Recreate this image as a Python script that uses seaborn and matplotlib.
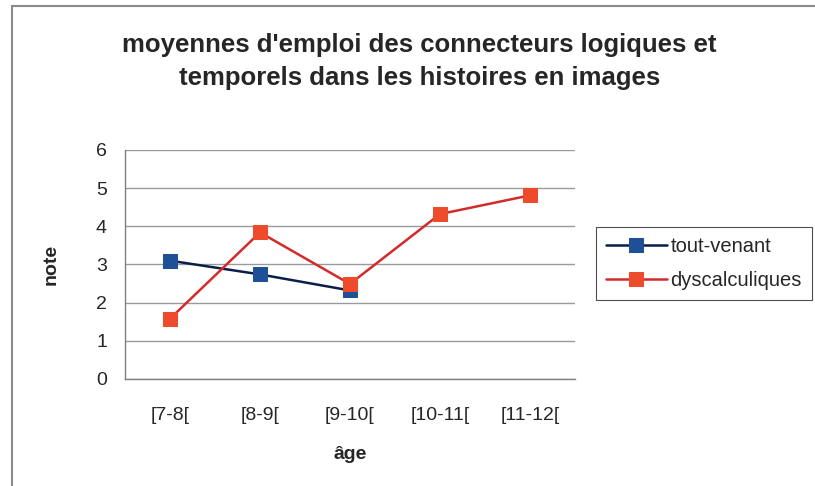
import pandas as pd
import seaborn as sns
import matplotlib.pyplot as plt
from matplotlib.lines import Line2D

ages = ['[7-8[', '[8-9[', '[9-10[', '[10-11[', '[11-12[']
tout_venant = [3.10, 2.74, 2.32]
dyscalculiques = [1.58, 3.84, 2.49, 4.32, 4.81]

df = pd.concat([
    pd.DataFrame({'age': ages[:len(tout_venant)], 'note': tout_venant, 'groupe': 'tout-venant'}),
    pd.DataFrame({'age': ages, 'note': dyscalculiques, 'groupe': 'dyscalculiques'}),
])
df['pos'] = df['age'].map({a: i for i, a in enumerate(ages)})

sns.set_style('white')
plt.rcParams['font.family'] = ['Liberation Sans', 'DejaVu Sans']

fig = plt.figure(figsize=(8.15, 4.86), dpi=100)
ax = fig.add_axes([0.1534, 0.2202, 0.552, 0.4712])

line_cols = {'tout-venant': '#0a1e4a', 'dyscalculiques': '#d42a2a'}
face_cols = {'tout-venant': '#1f4f96', 'dyscalculiques': '#ee4a2c'}
for g in ['tout-venant', 'dyscalculiques']:
    sub = df[df['groupe'] == g]
    sns.lineplot(data=sub, x='pos', y='note', ax=ax, color=line_cols[g], lw=1.8,
                 marker='s', markersize=9.5, markerfacecolor=face_cols[g],
                 markeredgecolor=face_cols[g], label=g, sort=False, zorder=3)

ax.set_xlim(-0.5, 4.5)
ax.set_ylim(0, 6)
ax.set_yticks(range(0, 7))
ax.set_xticks([i - 0.5 for i in range(6)])
ax.set_xticklabels([])
ax.set_xticks(range(5), minor=True)
ax.set_xticklabels(ages, minor=True)
ax.tick_params(axis='x', which='major', direction='out', length=6, color='#808080', width=1)
ax.tick_params(axis='x', which='minor', length=0, pad=20, labelsize=14)
ax.tick_params(axis='y', direction='out', length=6, color='#808080', width=1, labelsize=14, pad=7)
ax.yaxis.grid(True, color='#9a9a9a', lw=1)
ax.set_axisbelow(True)
for s in ['top', 'right']:
    ax.spines[s].set_visible(False)
for s in ['left', 'bottom']:
    ax.spines[s].set_color('#808080')
    ax.spines[s].set_linewidth(1)

ax.set_xlabel('âge', fontsize=14, fontweight='bold', labelpad=16)
ax.set_ylabel('note', fontsize=14, fontweight='bold', labelpad=26)

fig.suptitle("moyennes d'emploi des connecteurs logiques et\ntemporels dans les histoires en images",
             x=0.515, y=0.932, fontsize=18.5, fontweight='bold', linespacing=1.45)

leg = ax.legend(loc='upper left', bbox_to_anchor=(1.047, 0.665), frameon=True, fancybox=False,
                fontsize=14.5, handlelength=3.0, borderpad=0.5, labelspacing=0.75,
                handletextpad=0.2, borderaxespad=0)
leg.get_frame().set_edgecolor('#222222')
leg.get_frame().set_linewidth(0.8)

fig.lines.append(Line2D([0.015, 0.015], [0, 0.988], transform=fig.transFigure, color='#8a8a8a', lw=1.5))
fig.lines.append(Line2D([0.015, 1], [0.988, 0.988], transform=fig.transFigure, color='#8a8a8a', lw=1.5))

fig.savefig('out.png', dpi=100)
